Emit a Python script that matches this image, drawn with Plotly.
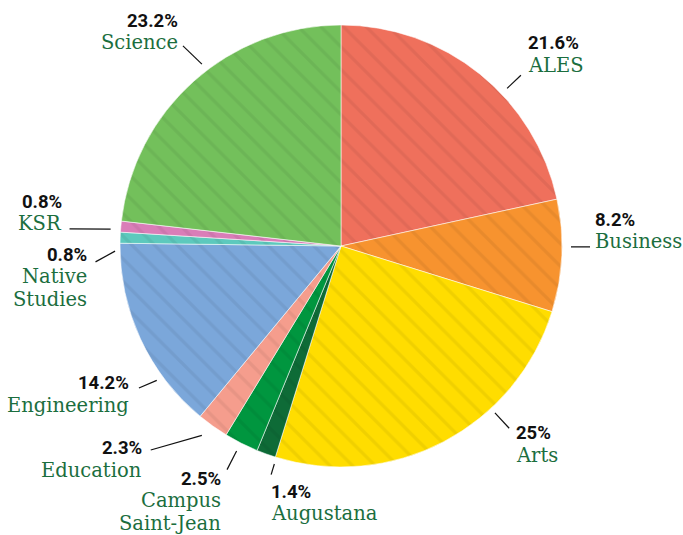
import math
import plotly.graph_objects as go

# ---------------- data ----------------
categories = ["ALES", "Business", "Arts", "Augustana", "Campus Saint-Jean",
              "Education", "Engineering", "Native Studies", "KSR", "Science"]
values = [21.6, 8.2, 25.0, 1.4, 2.5, 2.3, 14.2, 0.8, 0.8, 23.2]
pct_labels = ["21.6%", "8.2%", "25%", "1.4%", "2.5%", "2.3%", "14.2%", "0.8%", "0.8%", "23.2%"]
name_lines = [["ALES"], ["Business"], ["Arts"], ["Augustana"], ["Campus", "Saint-Jean"],
              ["Education"], ["Engineering"], ["Native", "Studies"], ["KSR"], ["Science"]]

# ---------------- style ----------------
colors = ["#EF705C", "#F7932F", "#FFDD00", "#0E6B37", "#00963F",
          "#F59D8D", "#7BA7DA", "#5DC9BD", "#DA7DB8", "#73C05B"]
W, H = 683, 535
CX, CY, R = 341, 246, 221   # pie centre / radius in figure pixels
NAME_COLOR = "#1B6E3E"

# label layout: (start angle, start r, end angle, end r, side, text dx, first-line dy)
label_layout = [
    (46.5, 229, 46.5, 248, "left", 6, -32),
    (90.2, 230, 90.2, 249, "left", 4, -27),
    (137.3, 227, 137.3, 248, "left", 6, 5),
    (197.0, 228, 197.0, 239, "left", -1, 17),
    (207.0, 230, 207.0, 251, "right", -5, 9),
    (216.3, 235, 223.0, 279, "right", -8, -2),
    (233.9, 228, 234.9, 247, "right", -9, -5),
    (268.7, 226, 266.3, 246, "right", -8, -7),
    (274.2, 231, 273.6, 272, "right", -7, -27),
    (322.6, 229, 321.7, 255, "right", -4, -25),
]


def px(a, r):
    t = math.radians(a)
    return CX + r * math.sin(t), CY - r * math.cos(t)


def to_paper(x, y):
    return x / W, 1 - y / H


fig = go.Figure(go.Pie(
    labels=categories,
    values=values,
    sort=False,
    direction="clockwise",
    rotation=0,
    textinfo="none",
    hoverinfo="label+percent",
    marker=dict(
        colors=colors,
        line=dict(color="rgba(255,255,255,0.55)", width=1),
        pattern=dict(shape="\\", bgcolor=colors, fgcolor="#000000", fgopacity=0.06,
                     size=16, solidity=0.2, fillmode="replace"),
    ),
    domain=dict(x=[(CX - R) / W, (CX + R) / W], y=[1 - (CY + R) / H, 1 - (CY - R) / H]),
    showlegend=False,
))

shapes = []
annotations = []
for i, (a1, r1, a2, r2, side, dx, dy) in enumerate(label_layout):
    x1, y1 = px(a1, r1)
    x2, y2 = px(a2, r2)
    p1 = to_paper(x1, y1)
    p2 = to_paper(x2, y2)
    shapes.append(dict(type="line", xref="paper", yref="paper",
                       x0=p1[0], y0=p1[1], x1=p2[0], y1=p2[1],
                       line=dict(color="#111111", width=1.2)))
    tx = x2 + dx
    ty = y2 + dy
    lines = [(pct_labels[i], True)] + [(n, False) for n in name_lines[i]]
    yy = ty
    for j, (txt, is_pct) in enumerate(lines):
        if j > 0:
            yy += 22 if j == 1 else 23
        pxp, pyp = to_paper(tx, yy)
        annotations.append(dict(
            x=pxp, y=pyp, xref="paper", yref="paper",
            text=f"<b>{txt}</b>" if is_pct else txt,
            showarrow=False, xanchor=side, yanchor="middle",
            font=dict(family="Roboto", size=18.5, color="#111111") if is_pct
            else dict(family="DejaVu Serif", size=19.5, color=NAME_COLOR),
            borderpad=0,
        ))

fig.update_layout(
    width=W, height=H,
    margin=dict(l=0, r=0, t=0, b=0),
    paper_bgcolor="white", plot_bgcolor="white",
    shapes=shapes, annotations=annotations,
)

fig.write_html(
    "out.html",
    config={"displayModeBar": False},
    post_script="document.body.style.margin='0';document.body.style.overflow='hidden';",
)
